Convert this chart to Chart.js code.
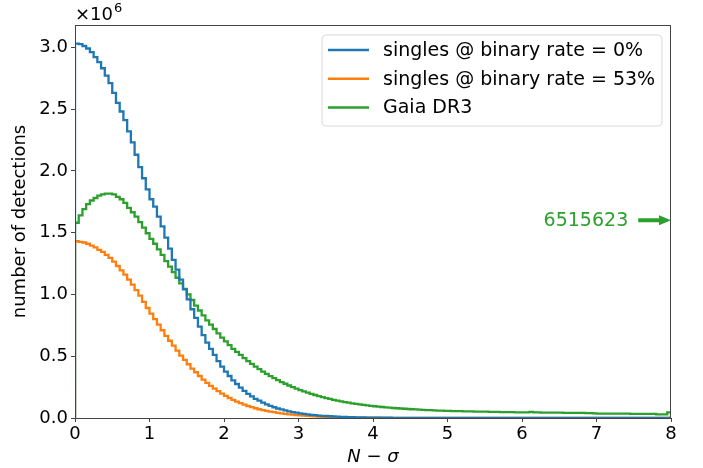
<!DOCTYPE html>
<html>
<head>
<meta charset="utf-8">
<script src="https://cdn.jsdelivr.net/npm/chart.js@4"></script>
<style>
html, body { margin: 0; padding: 0; background: #fff; }
#wrap { width: 703px; height: 468px; }
</style>
</head>
<body>
<div id="wrap"><canvas id="grafico"></canvas></div>
<script>
// histogram bins: 160 bins of width 0.05 from 0 to 8, counts in units of 1e6
const binWidth = 0.05;
const xTicks = [0, 1, 2, 3, 4, 5, 6, 7, 8];
const yTicks = [0, 0.5, 1.0, 1.5, 2.0, 2.5, 3.0];
const seriesLabels = ['singles @ binary rate = 0%', 'singles @ binary rate = 53%', 'Gaia DR3'];
const seriesColors = ['#1f77b4', '#ff7f0e', '#2ca02c'];
const gaiaTotal = '6515623';

const singles0 = [
  3.03, 3.025, 3.01, 2.99, 2.96, 2.92, 2.88, 2.83, 2.77, 2.71,
  2.63, 2.55, 2.48, 2.41, 2.32, 2.23, 2.13, 2.03, 1.94, 1.85,
  1.77, 1.71, 1.63, 1.55, 1.46, 1.37, 1.28, 1.20, 1.12, 1.04,
  0.96, 0.88, 0.81, 0.74, 0.67, 0.61, 0.56, 0.51, 0.46, 0.415,
  0.375, 0.34, 0.305, 0.275, 0.245, 0.22, 0.195, 0.175, 0.155, 0.14,
  0.125, 0.11, 0.098, 0.087, 0.077, 0.069, 0.061, 0.054, 0.048, 0.043,
  0.038, 0.034, 0.030, 0.026, 0.023, 0.020, 0.018, 0.016, 0.014, 0.012,
  0.011, 0.009, 0.008, 0.007, 0.006, 0.005, 0.005, 0.004, 0.003, 0.003,
  0.002, 0.002, 0.002, 0.002, 0.002, 0.001, 0.001, 0.001, 0.001, 0.001,
  0, 0, 0, 0, 0, 0, 0, 0, 0, 0,
  0, 0, 0, 0, 0, 0, 0, 0, 0, 0,
  0, 0, 0, 0, 0, 0, 0, 0, 0, 0,
  0, 0, 0, 0, 0, 0, 0, 0, 0, 0,
  0, 0, 0, 0, 0, 0, 0, 0, 0, 0,
  0, 0, 0, 0, 0, 0, 0, 0, 0, 0,
  0, 0, 0, 0, 0, 0, 0, 0, 0, 0
];

const singles53 = [
  1.43, 1.425, 1.42, 1.41, 1.395, 1.38, 1.36, 1.345, 1.32, 1.295,
  1.265, 1.23, 1.195, 1.16, 1.12, 1.08, 1.035, 0.99, 0.94, 0.89,
  0.845, 0.80, 0.755, 0.71, 0.665, 0.625, 0.585, 0.545, 0.505, 0.47,
  0.435, 0.40, 0.37, 0.34, 0.31, 0.285, 0.26, 0.238, 0.217, 0.197,
  0.179, 0.162, 0.147, 0.133, 0.12, 0.108, 0.097, 0.088, 0.079, 0.071,
  0.064, 0.058, 0.052, 0.047, 0.042, 0.038, 0.034, 0.030, 0.027, 0.024,
  0.021, 0.019, 0.017, 0.015, 0.013, 0.012, 0.010, 0.009, 0.008, 0.007,
  0.006, 0.006, 0.005, 0.004, 0.004, 0.003, 0.003, 0.003, 0.002, 0.002,
  0.002, 0.002, 0.001, 0.001, 0.001, 0.001, 0.001, 0.001, 0.001, 0.001,
  0, 0, 0, 0, 0, 0, 0, 0, 0, 0,
  0, 0, 0, 0, 0, 0, 0, 0, 0, 0,
  0, 0, 0, 0, 0, 0, 0, 0, 0, 0,
  0, 0, 0, 0, 0, 0, 0, 0, 0, 0,
  0, 0, 0, 0, 0, 0, 0, 0, 0, 0,
  0, 0, 0, 0, 0, 0, 0, 0, 0, 0,
  0, 0, 0, 0, 0, 0, 0, 0, 0, 0
];

const gaiaDR3 = [
  1.58, 1.64, 1.69, 1.73, 1.76, 1.78, 1.80, 1.81, 1.815, 1.815,
  1.81, 1.79, 1.77, 1.74, 1.70, 1.665, 1.63, 1.585, 1.54, 1.495,
  1.45, 1.41, 1.365, 1.32, 1.27, 1.225, 1.18, 1.135, 1.09, 1.045,
  1.00, 0.955, 0.91, 0.87, 0.83, 0.79, 0.755, 0.72, 0.685, 0.65,
  0.62, 0.59, 0.56, 0.535, 0.51, 0.485, 0.46, 0.438, 0.416, 0.395,
  0.376, 0.357, 0.339, 0.322, 0.306, 0.291, 0.277, 0.263, 0.25, 0.238,
  0.226, 0.215, 0.205, 0.195, 0.186, 0.177, 0.169, 0.161, 0.154, 0.147,
  0.141, 0.135, 0.129, 0.124, 0.119, 0.114, 0.110, 0.106, 0.102, 0.098,
  0.095, 0.092, 0.089, 0.086, 0.084, 0.081, 0.079, 0.077, 0.075, 0.073,
  0.071, 0.069, 0.067, 0.066, 0.064, 0.063, 0.062, 0.060, 0.059, 0.058,
  0.057, 0.056, 0.055, 0.055, 0.054, 0.053, 0.053, 0.052, 0.052, 0.051,
  0.051, 0.050, 0.049, 0.049, 0.048, 0.048, 0.047, 0.047, 0.046, 0.046,
  0.046, 0.045, 0.050, 0.045, 0.045, 0.044, 0.044, 0.044, 0.043, 0.043,
  0.043, 0.042, 0.042, 0.042, 0.041, 0.041, 0.041, 0.040, 0.040, 0.037,
  0.036, 0.036, 0.036, 0.036, 0.035, 0.035, 0.035, 0.035, 0.035, 0.034,
  0.034, 0.034, 0.034, 0.034, 0.034, 0.033, 0.030, 0.030, 0.030, 0.045
];

// turn bin counts into a step outline like matplotlib histtype='step'
function toSteps(vals) {
  const pts = [{x: 0, y: 0}, {x: 0, y: vals[0]}];
  for (let i = 1; i < vals.length; i++) {
    const edge = +(i * binWidth).toFixed(2);
    pts.push({x: edge, y: vals[i - 1]});
    pts.push({x: edge, y: vals[i]});
  }
  const end = +(vals.length * binWidth).toFixed(2);
  pts.push({x: end, y: vals[vals.length - 1]});
  pts.push({x: end, y: 0});
  return pts;
}

const font = 'DejaVu Sans';
const allSeries = [singles0, singles53, gaiaDR3];

const extras = {
  id: 'extras',
  afterDraw(chart) {
    const c = chart.ctx;
    const a = chart.chartArea;
    const xs = chart.scales.x, ys = chart.scales.y;
    c.save();
    // frame
    c.strokeStyle = '#444';
    c.lineWidth = 1;
    c.strokeRect(a.left + 0.5, a.top + 0.5, a.right - a.left - 1, a.bottom - a.top);

    // x10^6 offset text
    c.fillStyle = '#000';
    c.textBaseline = 'alphabetic';
    c.textAlign = 'left';
    c.font = '18px "' + font + '"';
    c.fillText('\u00d710', a.left, a.top - 5);
    const w = c.measureText('\u00d710').width;
    c.font = '13px "' + font + '"';
    c.fillText('6', a.left + w + 1, a.top - 13);

    // legend box
    const bx = a.right - 349, by = a.top + 10, bw = 340, bh = 91;
    c.beginPath();
    c.roundRect(bx, by, bw, bh, 4);
    c.fillStyle = 'rgba(255,255,255,0.8)';
    c.fill();
    c.strokeStyle = '#d9d9d9';
    c.lineWidth = 1;
    c.stroke();
    c.font = '19px "' + font + '"';
    c.textBaseline = 'middle';
    chart.data.datasets.forEach((ds, i) => {
      const ly = by + 15 + i * 28.7;
      c.strokeStyle = ds.borderColor;
      c.lineWidth = 2.5;
      c.beginPath();
      c.moveTo(bx + 6, ly);
      c.lineTo(bx + 47, ly);
      c.stroke();
      c.fillStyle = '#000';
      c.fillText(ds.label, bx + 61, ly + 1);
    });

    // Gaia total annotation with arrow
    const ay = ys.getPixelForValue(1.6);
    const x1 = xs.getPixelForValue(7.56);
    const x2 = xs.getPixelForValue(8);
    c.fillStyle = seriesColors[2];
    c.textAlign = 'right';
    c.fillText(gaiaTotal, x1 - 10, ay + 1);
    c.fillRect(x1, ay - 2, x2 - x1 - 10, 4);
    c.beginPath();
    c.moveTo(x2, ay);
    c.lineTo(x2 - 12, ay - 5);
    c.lineTo(x2 - 12, ay + 5);
    c.closePath();
    c.fill();
    c.restore();
  }
};

new Chart(document.getElementById('grafico'), {
  type: 'line',
  data: {
    datasets: allSeries.map((vals, i) => ({
      label: seriesLabels[i],
      data: toSteps(vals),
      borderColor: seriesColors[i],
      borderWidth: 2.3,
      pointRadius: 0,
      borderJoinStyle: 'miter',
      fill: false
    }))
  },
  options: {
    responsive: true,
    maintainAspectRatio: false,
    animation: false,
    devicePixelRatio: 1,
    layout: { padding: { left: 0, right: 32, top: 25, bottom: 0 } },
    plugins: { legend: { display: false }, tooltip: { enabled: false } },
    scales: {
      x: {
        type: 'linear',
        min: 0,
        max: 8,
        afterBuildTicks: axis => { axis.ticks = xTicks.map(v => ({value: v})); },
        afterFit: axis => { axis.height = 50; },
        ticks: { font: { family: font, size: 18 }, color: '#000', padding: 2, maxRotation: 0 },
        grid: { display: true, drawOnChartArea: false, drawTicks: true, tickLength: 4, color: '#444' },
        border: { display: true, color: '#444' },
        title: { display: true, text: 'N \u2212 \u03c3', font: { family: font, size: 18, style: 'italic' }, color: '#000', padding: { top: 0, bottom: 0 } }
      },
      y: {
        min: 0,
        max: 3.18,
        afterBuildTicks: axis => { axis.ticks = yTicks.map(v => ({value: v})); },
        afterFit: axis => { axis.width = 75; },
        ticks: { font: { family: font, size: 18 }, color: '#000', padding: 3, callback: v => v.toFixed(1) },
        grid: { display: true, drawOnChartArea: false, drawTicks: true, tickLength: 4, color: '#444' },
        border: { display: true, color: '#444' },
        title: { display: true, text: 'number of detections', font: { family: font, size: 18 }, color: '#000', padding: { top: 10, bottom: 0 } }
      }
    }
  },
  plugins: [extras]
});
</script>
</body>
</html>
